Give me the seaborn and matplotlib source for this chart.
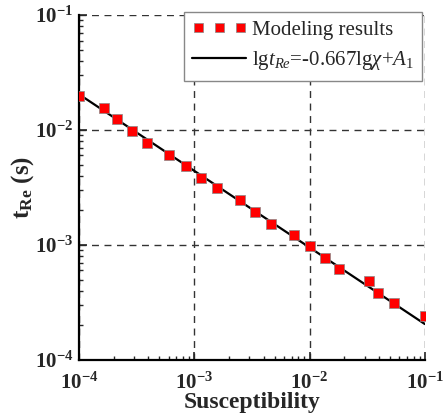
import matplotlib
matplotlib.use("Agg")
import matplotlib.pyplot as plt
import seaborn as sns
import pandas as pd
from matplotlib.ticker import LogLocator, NullFormatter

susceptibility = [1.0e-4, 1.65e-4, 2.14e-4, 2.88e-4, 3.9e-4, 6.1e-4, 8.5e-4, 1.15e-3,
                  1.58e-3, 2.5e-3, 3.4e-3, 4.6e-3, 7.3e-3, 1.0e-2, 1.35e-2, 1.8e-2,
                  3.3e-2, 3.9e-2, 5.4e-2, 1.0e-1]
t_re = [0.0198, 0.0155, 0.0125, 0.0098, 0.0077, 0.0061, 0.0049, 0.0038,
        0.0031, 0.00246, 0.00194, 0.00152, 0.00122, 0.00098, 0.00077, 0.00062,
        0.00049, 0.00038, 0.00031, 0.00024]
fit_x = [1.0e-4, 1.0e-1]
fit_y = [0.0205, 2.05e-4]

sns.set_style("ticks")
plt.rcParams['font.family'] = ['Liberation Serif', 'DejaVu Serif']
plt.rcParams['mathtext.fontset'] = 'custom'
plt.rcParams['mathtext.rm'] = 'Liberation Serif'
plt.rcParams['mathtext.it'] = 'Liberation Serif:italic'
plt.rcParams['mathtext.bf'] = 'Liberation Serif:bold'

fig = plt.figure(figsize=(4.43, 4.18), dpi=100)
ax = fig.add_axes([0.178, 0.139, 0.781, 0.825])

df = pd.DataFrame({"x": susceptibility, "y": t_re})
dfit = pd.DataFrame({"x": fit_x, "y": fit_y})

sns.lineplot(data=dfit, x="x", y="y", ax=ax, color="black", lw=1.6,
             label=r'lg$\mathit{t}_{Re}$=-0.667lg$\mathit{\chi}$+$\mathit{A}_{1}$', zorder=2)
sns.scatterplot(data=df, x="x", y="y", ax=ax, marker="s", s=42, color="#ff0000",
                edgecolor="#888888", linewidth=0.5, label="Modeling results", zorder=3)

ax.set_xscale("log")
ax.set_yscale("log")
ax.set_xlim(1e-4, 1e-1)
ax.set_ylim(1e-4, 1e-1)

ax.xaxis.set_major_locator(LogLocator(base=10, numticks=10))
ax.yaxis.set_major_locator(LogLocator(base=10, numticks=10))
ax.xaxis.set_minor_locator(LogLocator(base=10, subs=range(2, 10), numticks=20))
ax.yaxis.set_minor_locator(LogLocator(base=10, subs=range(2, 10), numticks=20))
ax.xaxis.set_minor_formatter(NullFormatter())
ax.yaxis.set_minor_formatter(NullFormatter())

ax.grid(True, which="major", linestyle=(0, (5, 4)), color="#333333", lw=1.0)
for s in ["top", "right"]:
    ax.spines[s].set_visible(False)
for s in ["left", "bottom"]:
    ax.spines[s].set_linewidth(1.6)
    ax.spines[s].set_color("black")

ax.tick_params(which="major", direction="in", length=6, width=1.2, labelsize=15)
ax.tick_params(axis="x", which="major", pad=9)
ax.tick_params(axis="y", which="major", pad=4)
ax.tick_params(which="minor", direction="in", length=3, width=1.0)
for lbl in ax.get_xticklabels() + ax.get_yticklabels():
    lbl.set_fontweight("bold")

ax.set_xlabel("Susceptibility", fontsize=17, fontweight="bold", labelpad=-1)
ax.set_ylabel(r"t$_{\mathbf{Re}}$ (s)", fontsize=18, fontweight="bold", labelpad=-1)

handles, labels = ax.get_legend_handles_labels()
leg = ax.legend(handles[::-1], labels[::-1], loc="upper right", fontsize=15,
                bbox_to_anchor=(422 / 443, 1 - 12 / 418), bbox_transform=fig.transFigure,
                frameon=True, fancybox=False, edgecolor="#888888", framealpha=1,
                scatterpoints=3, scatteryoffsets=[0.5], handlelength=2.6, handletextpad=0.25,
                borderpad=0.4, labelspacing=0.45, borderaxespad=0.0)
leg.get_frame().set_linewidth(1.0)

fig.savefig("out.png", dpi=100)
